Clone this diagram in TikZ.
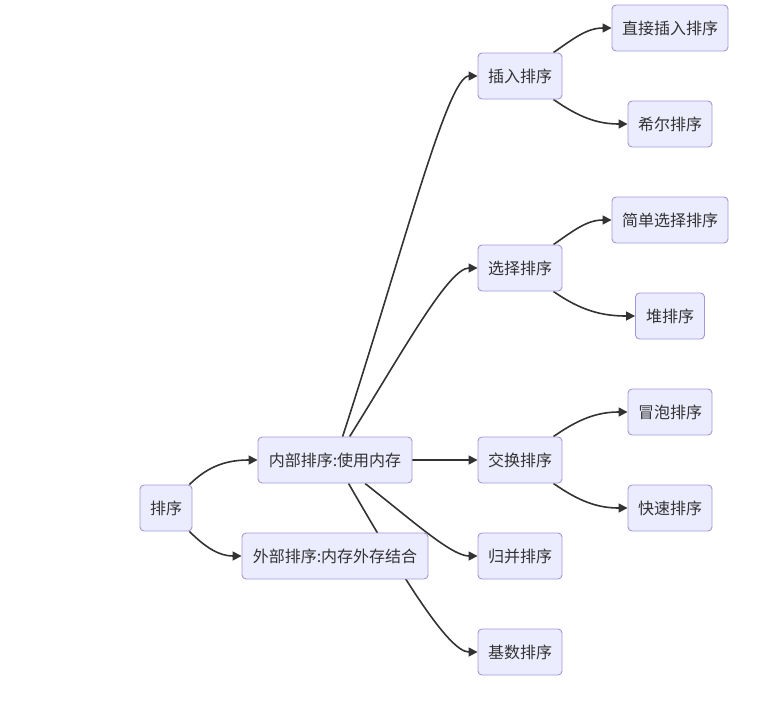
\documentclass[tikz,border=0pt]{standalone}
\usepackage{fontspec}
\setmainfont{Noto Sans CJK SC}
\usepackage{tikz}
\usetikzlibrary{arrows.meta,backgrounds}
\definecolor{mmFill}{HTML}{ECECFF}
\definecolor{mmDraw}{HTML}{A596D8}
\definecolor{mmLine}{HTML}{333333}
\tikzset{
  mm-box/.style={
    draw=mmDraw, line width=0.9pt, rounded corners=4pt,
    fill=mmFill, font=\fontsize{16}{19}\selectfont, text=mmLine,
    align=center, inner sep=0pt, minimum height=46pt
  },
  mm-flow/.style={-{Triangle[length=9pt,width=9pt]}, line width=1.6pt, draw=mmLine}
}

\begin{document}
\begin{tikzpicture}[x=1pt, y=-1pt]
\useasboundingbox (0,0) rectangle (762,702);
% root
\node[mm-box, minimum width=52pt] (sort) at (166,508) {排序};
\node[mm-box, minimum width=154pt] (inner) at (335,460) {内部排序:使用内存};
\node[mm-box, minimum width=186pt] (outer) at (335,556) {外部排序:内存外存结合};

% second level
\node[mm-box, minimum width=84pt] (ins) at (520,76) {插入排序};
\node[mm-box, minimum width=84pt] (sel) at (520,268) {选择排序};
\node[mm-box, minimum width=84pt] (swap) at (520,460) {交换排序};
\node[mm-box, minimum width=84pt] (merge) at (520,556) {归并排序};
\node[mm-box, minimum width=84pt] (radix) at (520,652) {基数排序};

% leaves
\node[mm-box, minimum width=116pt] (direct) at (670,28) {直接插入排序};
\node[mm-box, minimum width=84pt] (shell) at (670,124) {希尔排序};
\node[mm-box, minimum width=116pt] (simple) at (670,220) {简单选择排序};
\node[mm-box, minimum width=69pt] (heap) at (670,316) {堆排序};
\node[mm-box, minimum width=84pt] (bubble) at (670,412) {冒泡排序};
\node[mm-box, minimum width=84pt] (quick) at (670,508) {快速排序};

\begin{scope}[on background layer]
\draw[mm-flow] (sort) to[out=45,in=180] (inner);
\draw[mm-flow] (sort) to[out=-45,in=180] (outer);
\draw[mm-flow] (inner) to[out=72,in=180,out looseness=1.3,in looseness=0.2] (ins);
\draw[mm-flow] (inner) to[out=58,in=180,out looseness=1.2,in looseness=0.35] (sel);
\draw[mm-flow] (inner) -- (swap);
\draw[mm-flow] (inner) to[out=-38,in=180,out looseness=1.1,in looseness=0.5] (merge);
\draw[mm-flow] (inner) to[out=-60,in=180,out looseness=1.3,in looseness=0.35] (radix);
\draw[mm-flow] (ins) to[out=35,in=180] (direct);
\draw[mm-flow] (ins) to[out=-35,in=180] (shell);
\draw[mm-flow] (sel) to[out=35,in=180] (simple);
\draw[mm-flow] (sel) to[out=-35,in=180] (heap);
\draw[mm-flow] (swap) to[out=35,in=180] (bubble);
\draw[mm-flow] (swap) to[out=-35,in=180] (quick);
\end{scope}
\end{tikzpicture}
\end{document}
